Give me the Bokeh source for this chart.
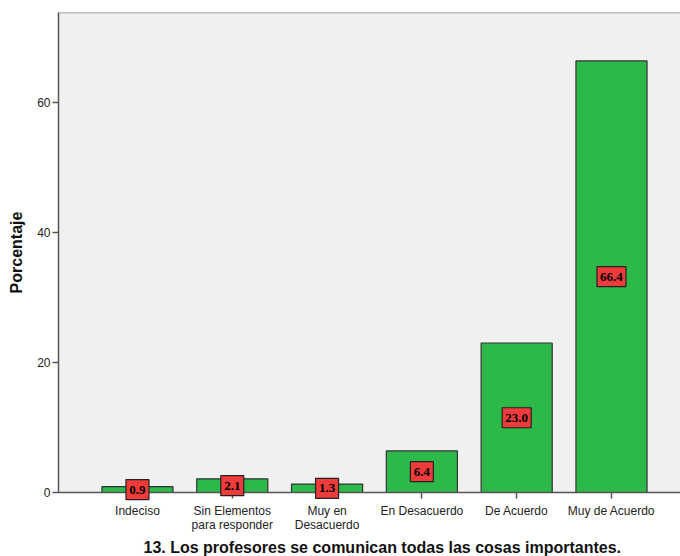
from bokeh.plotting import figure
from bokeh.models import ColumnDataSource, FixedTicker, Span, Title, Range1d
from bokeh.core.properties import value
from bokeh.embed import file_html
from bokeh.resources import INLINE

# ---- data ----
categories = ["Indeciso", "Sin Elementos\npara responder", "Muy en\nDesacuerdo",
              "En Desacuerdo", "De Acuerdo", "Muy de Acuerdo"]
percentages = [0.9, 2.1, 1.3, 6.4, 23.0, 66.4]
y_ticks = [0, 20, 40, 60]
title_text = "13. Los profesores se comunican todas las cosas importantes."
y_label = "Porcentaje"

# ---- derived ----
xs = list(range(len(categories)))
labels = [f"{v:.1f}" for v in percentages]
box_w = [6 * len(s) + 5 for s in labels]
src = ColumnDataSource(dict(x=xs, top=percentages, mid=[v / 2 for v in percentages],
                            label=labels, bw=box_w))

Y_MAX = 73.85

p = figure(width=680, height=556,
           x_range=Range1d(-0.833, 5.728), y_range=Range1d(0, Y_MAX),
           output_backend="svg", toolbar_location=None,
           min_border_left=58, min_border_right=0, min_border_top=12, min_border_bottom=0)

p.background_fill_color = "#F0F0F0"
p.border_fill_color = "white"
p.outline_line_color = None
p.xgrid.visible = False
p.ygrid.visible = False

p.vbar(x="x", top="top", width=0.75, source=src,
       fill_color="#2DB84A", line_color="#333333", line_width=1.2)
p.rect(x="x", y="mid", width="bw", height=20, width_units="screen", height_units="screen",
       fill_color="#EF3B3B", line_color="#222222", line_width=1.2, source=src, level="overlay")
p.text(x="x", y="mid", text="label", text_align="center", text_baseline="middle",
       text_font=value("Liberation Serif"), text_font_style="bold", text_font_size="13px",
       text_color="black", source=src, level="overlay")

p.add_layout(Span(location=Y_MAX, dimension="width", line_color="#888888", line_width=1.5))

# axes
for ax in (p.xaxis, p.yaxis):
    ax.major_tick_out = 6
    ax.major_tick_in = 0
    ax.minor_tick_line_color = None
    ax.axis_line_color = "#555555"
    ax.axis_line_width = 1.5
    ax.major_tick_line_color = "#555555"
    ax.major_tick_line_width = 1.5
    ax.major_label_text_font = "Liberation Sans"
    ax.major_label_text_font_size = "12px"
    ax.major_label_text_color = "#222222"

p.yaxis.ticker = FixedTicker(ticks=y_ticks)
p.yaxis.major_label_standoff = 2
p.yaxis.axis_label = y_label
p.yaxis.axis_label_text_font = "Liberation Sans"
p.yaxis.axis_label_text_font_style = "bold"
p.yaxis.axis_label_text_font_size = "16px"
p.yaxis.axis_label_text_color = "#111111"
p.yaxis.axis_label_standoff = 9

p.xaxis.ticker = FixedTicker(ticks=xs)
p.xaxis.major_label_overrides = {i: c for i, c in enumerate(categories)}
p.xaxis.major_label_standoff = 5
p.xaxis.major_label_text_line_height = 1.05

p.add_layout(Title(text=title_text, align="left", offset=85,
                   text_font="Liberation Sans", text_font_style="bold",
                   text_font_size="16px", text_color="#111111", standoff=2), "below")

open("out.html", "w").write(file_html(p, INLINE))
